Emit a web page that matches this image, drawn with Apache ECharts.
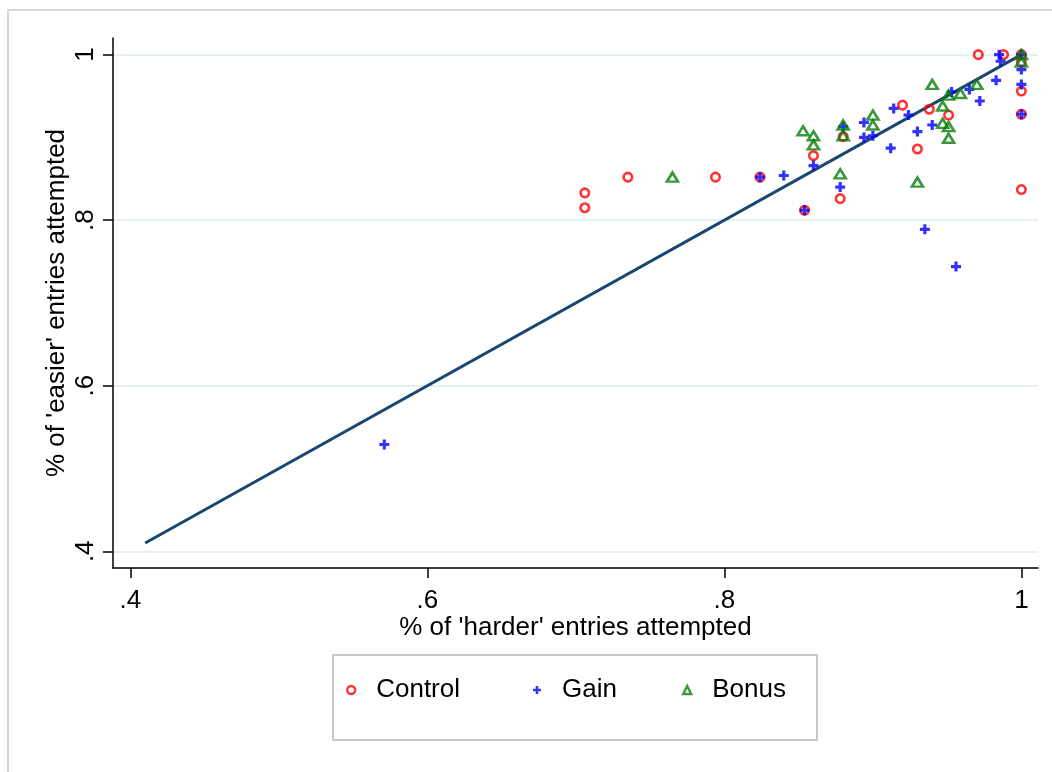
<!DOCTYPE html>
<html>
<head>
<meta charset="utf-8">
<script src="https://cdn.jsdelivr.net/npm/echarts@6/dist/echarts.min.js"></script>
<style>
  html, body { margin: 0; padding: 0; background: #fff; }
  #chart { width: 1052px; height: 772px; }
</style>
</head>
<body>
<div id="chart"></div>
<script>
// Share of 'harder' entries attempted (x) vs share of 'easier' entries attempted (y)
const xTicks = [0.4, 0.6, 0.8, 1];
const yTicks = [0.4, 0.6, 0.8, 1];

const control = [
  [0.706, 0.833], [0.706, 0.815], [0.735, 0.852], [0.794, 0.852],
  [0.824, 0.852], [0.878, 0.826], [0.854, 0.812], [0.860, 0.878],
  [0.880, 0.901], [0.920, 0.939], [0.938, 0.934], [0.951, 0.927],
  [0.930, 0.886], [0.971, 1.000], [0.988, 1.000], [1.000, 1.000],
  [1.000, 0.991], [1.000, 0.956], [1.000, 0.928], [1.000, 0.837]
];

const gain = [
  [0.571, 0.529], [0.824, 0.852], [0.840, 0.854], [0.854, 0.812],
  [0.860, 0.866], [0.878, 0.840], [0.880, 0.913], [0.894, 0.918],
  [0.894, 0.900], [0.900, 0.902], [0.914, 0.935], [0.912, 0.887],
  [0.924, 0.927], [0.930, 0.907], [0.940, 0.915], [0.935, 0.789],
  [0.956, 0.744], [0.953, 0.955], [0.965, 0.958], [0.972, 0.944],
  [0.983, 0.969], [0.985, 1.000], [0.986, 0.992], [1.000, 0.982],
  [1.000, 0.964], [1.000, 0.928], [1.000, 1.000]
];

const bonus = [
  [0.765, 0.852], [0.853, 0.908], [0.860, 0.902], [0.860, 0.891],
  [0.878, 0.856], [0.880, 0.915], [0.880, 0.902], [0.900, 0.927],
  [0.900, 0.915], [0.930, 0.846], [0.940, 0.964], [0.947, 0.938],
  [0.947, 0.917], [0.951, 0.913], [0.951, 0.899], [0.951, 0.951],
  [0.959, 0.953], [0.970, 0.964], [1.000, 1.000], [1.000, 0.991]
];

// 45-degree reference line
const diagonal = [[0.41, 0.41], [1, 1]];

const FONT = "'Liberation Sans', Arial, sans-serif";
const RED = '#ff0000', BLUE = '#0000ff', GREEN = '#0a7d0a', NAVY = '#1a476f';
const PLUS = 'path://M3.4,0H6.6V3.4H10V6.6H6.6V10H3.4V6.6H0V3.4H3.4Z';

const tickText = v => (v === 1 ? '1' : String(v).replace(/^0/, ''));

const legendBase = {
  orient: 'horizontal', padding: 0, itemWidth: 8, itemHeight: 8,
  top: 677, selectedMode: false,
  textStyle: { fontFamily: FONT, fontSize: 26, color: '#000', padding: [0, 0, 0, 16] }
};

const chart = echarts.init(document.getElementById('chart'), null, { renderer: 'canvas' });
chart.setOption({
  backgroundColor: '#fff',
  animation: false,
  graphic: [
    { type: 'rect', z: -10, shape: { x: 8, y: 10, width: 1200, height: 900 },
      style: { fill: 'none', stroke: '#d6d6d6', lineWidth: 2 } },
    { type: 'rect', z: -10, shape: { x: 333, y: 655, width: 484, height: 85 },
      style: { fill: '#fff', stroke: '#c8c8c8', lineWidth: 2 } }
  ],
  grid: { left: 113, right: 14, top: 38, bottom: 204, containLabel: false },
  xAxis: {
    type: 'value', min: 0.3883, max: 1.0112,
    name: "% of 'harder' entries attempted", nameLocation: 'middle', nameGap: 47,
    nameMoveOverlap: false,
    nameTextStyle: { fontFamily: FONT, fontSize: 26, color: '#000' },
    axisLine: { show: true, onZero: false, lineStyle: { color: '#000', width: 1.5 } },
    axisTick: { show: true, length: 10, customValues: xTicks, lineStyle: { color: '#000', width: 1.5 } },
    axisLabel: { customValues: xTicks, formatter: tickText, margin: 20,
      fontFamily: FONT, fontSize: 26, color: '#000' },
    splitLine: { show: false }
  },
  yAxis: {
    type: 'value', min: 0.3798, max: 1.0201,
    name: "% of 'easier' entries attempted", nameLocation: 'middle', nameGap: 43, nameRotate: 90,
    nameMoveOverlap: false,
    nameTextStyle: { fontFamily: FONT, fontSize: 26, color: '#000' },
    axisLine: { show: true, onZero: false, lineStyle: { color: '#000', width: 1.5 } },
    axisTick: { show: true, length: 10, customValues: yTicks, lineStyle: { color: '#000', width: 1.5 } },
    axisLabel: { customValues: yTicks, formatter: tickText, rotate: 90, margin: 14,
      fontFamily: FONT, fontSize: 26, color: '#000' },
    splitLine: { show: false }
  },
  legend: [
    Object.assign({}, legendBase, { left: 346, data: [{ name: 'Control',
      itemStyle: { color: 'rgba(0,0,0,0)', borderColor: RED, borderWidth: 2.4 } }] }),
    Object.assign({}, legendBase, { left: 533, data: [{ name: 'Gain',
      icon: PLUS, itemStyle: { color: BLUE, borderWidth: 0 } }] }),
    Object.assign({}, legendBase, { left: 682, data: [{ name: 'Bonus',
      itemStyle: { color: 'rgba(0,0,0,0)', borderColor: GREEN, borderWidth: 2.4 } }] })
  ],
  series: [
    {
      name: 'grid', type: 'line', data: [], silent: true, z: 0,
      markLine: {
        silent: true, symbol: 'none', animation: false, z: 0,
        label: { show: false },
        lineStyle: { color: '#e6eff1', width: 2, type: 'solid' },
        data: yTicks.map(v => ({ yAxis: v }))
      }
    },
    {
      name: 'diagonal', type: 'line', data: diagonal, symbol: 'none', z: 2,
      lineStyle: { color: NAVY, width: 3 }, silent: true
    },
    {
      name: 'Control', type: 'scatter', data: control, symbol: 'circle', symbolSize: 8.5, z: 3,
      itemStyle: { color: 'rgba(0,0,0,0)', borderColor: RED, borderWidth: 2.6 }
    },
    {
      name: 'Gain', type: 'scatter', data: gain, symbol: PLUS, symbolSize: 10, z: 4,
      itemStyle: { color: BLUE }
    },
    {
      name: 'Bonus', type: 'scatter', data: bonus, symbol: 'triangle', symbolSize: [11, 9], z: 5,
      itemStyle: { color: 'rgba(0,0,0,0)', borderColor: GREEN, borderWidth: 2.6 }
    }
  ]
});
</script>
</body>
</html>
